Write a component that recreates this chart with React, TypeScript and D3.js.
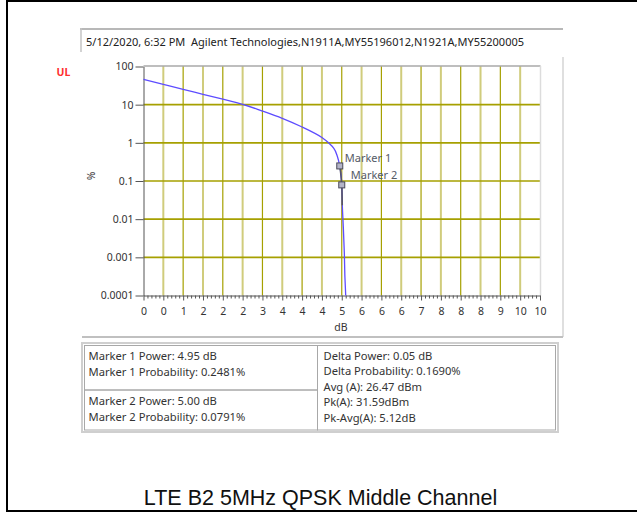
import * as d3 from 'd3'
import { useEffect, useRef } from 'react'

// CCDF curve
const powerDb = [0, 0.5, 1, 1.5, 2, 2.5, 3, 3.5, 4, 4.5, 4.6, 4.68, 4.8, 4.89, 4.95, 5.0, 5.014, 5.04, 5.065, 5.08, 5.1]
const probabilityPct = [46, 34, 25, 18.7, 13.9, 10.2, 6.8, 4.4, 2.6, 1.38, 1.15, 0.97, 0.72, 0.44, 0.2481, 0.0791, 0.023, 0.006, 0.0013, 0.0003, 0.0001]

const markerNames = ['Marker 1', 'Marker 2']
const markerPower = [4.95, 5.0]
const markerProb = [0.2481, 0.0791]

const yTickValues = [0.0001, 0.001, 0.01, 0.1, 1, 10, 100]
const yTickLabels = ['0.0001', '0.001', '0.01', '0.1', '1', '10', '100']
const xTickLabels = ['0', '0', '1', '2', '2', '2', '3', '4', '4', '4', '5', '6', '6', '6', '7', '8', '8', '8', '9', '10', '10']

const headerText = '5/12/2020, 6:32 PM  Agilent Technologies,N1911A,MY55196012,N1921A,MY55200005'
const marker1Rows = ['Marker 1 Power: 4.95 dB', 'Marker 1 Probability: 0.2481%']
const marker2Rows = ['Marker 2 Power: 5.00 dB', 'Marker 2 Probability: 0.0791%']
const deltaRows = ['Delta Power: 0.05 dB', 'Delta Probability: 0.1690%', 'Avg (A): 26.47 dBm', 'Pk(A): 31.59dBm', 'Pk-Avg(A): 5.12dB']
const caption = 'LTE B2 5MHz QPSK Middle Channel'

const uiFont = '"Noto Sans", "Open Sans", sans-serif'

export default function App() {
    const svgRef = useRef<SVGSVGElement>(null)

    useEffect(() => {
        makeChart(svgRef)
    }, [])

    function makeChart(svgRef: React.RefObject<SVGSVGElement>) {
        const width = 637
        const height = 515
        const svg = d3.select(svgRef.current).attr('width', width).attr('height', height)
        svg.selectAll('*').remove()

        svg.append('rect').attr('width', width).attr('height', height).attr('fill', '#fff')
        // outer frame (right side runs off the page)
        svg.append('rect').attr('x', 7).attr('y', 1).attr('width', 700).attr('height', 510)
            .attr('fill', 'none').attr('stroke', '#000').attr('stroke-width', 2)

        // header box
        svg.append('line').attr('x1', 80).attr('x2', 563).attr('y1', 29).attr('y2', 29).attr('stroke', '#b8b8b8').attr('stroke-width', 2)
        svg.append('line').attr('x1', 81).attr('x2', 81).attr('y1', 28).attr('y2', 52).attr('stroke', '#c4c4c4').attr('stroke-width', 1.5)
        svg.append('text').attr('x', 86).attr('y', 45.5).text(headerText)
            .style('white-space', 'pre')
            .attr('font-family', uiFont).attr('font-size', 11).attr('fill', '#222')

        // panel edges
        svg.append('line').attr('x1', 563).attr('x2', 563).attr('y1', 57).attr('y2', 337).attr('stroke', '#d4d4d4').attr('stroke-width', 1.5)
        svg.append('line').attr('x1', 82).attr('x2', 563).attr('y1', 337).attr('y2', 337).attr('stroke', '#c0c0c0').attr('stroke-width', 2)

        svg.append('text').attr('x', 56.5).attr('y', 75.5).text('UL')
            .attr('font-family', uiFont).attr('font-size', 10.5).attr('font-weight', 'bold').attr('fill', '#ff3030')

        const x = d3.scaleLinear().domain([0, 10]).range([143.5, 540])
        const y = d3.scaleLog().domain([0.0001, 100]).range([295.5, 66.5])

        const halfSteps = xTickLabels.map((_, i) => i * 0.5)

        // grid
        const grid = svg.append('g')
        grid.selectAll('line.v').data(halfSteps.slice(1, -1)).enter().append('line')
            .attr('x1', d => x(d)).attr('x2', d => x(d)).attr('y1', 66).attr('y2', 295.5)
            .attr('stroke', (d, i) => i % 2 === 0 ? '#d0cc7c' : '#a6a000')
            .attr('stroke-width', (d, i) => i % 2 === 0 ? 2 : 1.2)
        grid.selectAll('line.h').data(yTickValues.slice(1, -1)).enter().append('line')
            .attr('x1', 143.5).attr('x2', 540).attr('y1', d => y(d)).attr('y2', d => y(d))
            .attr('stroke', '#a6a000').attr('stroke-width', 1.6)

        // plot borders
        svg.append('line').attr('x1', 143.5).attr('x2', 540.5).attr('y1', 66).attr('y2', 66).attr('stroke', '#a8a8a8').attr('stroke-width', 1.5)
        svg.append('line').attr('x1', 540.5).attr('x2', 540.5).attr('y1', 66).attr('y2', 295.5).attr('stroke', '#dcdcdc').attr('stroke-width', 1.5)

        // axes
        const yAxis = svg.append('g').attr('transform', 'translate(143.5,0)')
            .call(d3.axisLeft(y).tickValues(yTickValues).tickFormat((d, i) => yTickLabels[i]).tickSize(8).tickSizeOuter(0).tickPadding(2))
        const xAxis = svg.append('g').attr('transform', 'translate(0,295.5)')
            .call(d3.axisBottom(x).tickValues(halfSteps).tickFormat((d, i) => xTickLabels[i]).tickSize(5).tickSizeOuter(0).tickPadding(7))
        const minor = d3.range(0, 101).filter(i => i % 5 !== 0).map(i => i / 10)
        svg.append('g').attr('transform', 'translate(0,295.5)')
            .call(d3.axisBottom(x).tickValues(minor).tickFormat(() => '').tickSize(3).tickSizeOuter(0))
            .call(g => g.select('.domain').remove())
            .selectAll('line').attr('stroke', '#555')
        for (const ax of [yAxis, xAxis]) {
            ax.select('.domain').attr('stroke', '#555')
            ax.selectAll('.tick line').attr('stroke', '#555')
            ax.selectAll('text').attr('font-family', uiFont).attr('font-size', 10.5).attr('fill', '#333')
        }

        svg.append('text').attr('x', 341).attr('y', 331).attr('text-anchor', 'middle').text('dB')
            .attr('font-family', uiFont).attr('font-size', 10.5).attr('fill', '#333')
        svg.append('text').attr('transform', 'translate(87,176) rotate(90)').attr('text-anchor', 'middle').text('%')
            .attr('font-family', uiFont).attr('font-size', 10).attr('fill', '#333')

        // curve
        const pts: [number, number][] = powerDb.map((p, i) => [x(p), y(probabilityPct[i])])
        const line = d3.line().curve(d3.curveMonotoneY)
        const ptsY = pts.slice().sort((a, b) => a[1] - b[1])
        svg.append('path').attr('d', line(ptsY)).attr('fill', 'none').attr('stroke', '#5d4cff').attr('stroke-width', 1.3)

        const markerSpan = pts.filter((p, i) => powerDb[i] >= markerPower[0] && powerDb[i] <= 5.015)
        svg.append('path').attr('d', d3.line().curve(d3.curveMonotoneY)(markerSpan))
            .attr('fill', 'none').attr('stroke', '#55556a').attr('stroke-width', 1.5)

        const labelDx = [5, 9]
        const labelDy = [-4, -6]
        markerNames.forEach((name, i) => {
            const mx = x(markerPower[i])
            const my = y(markerProb[i])
            svg.append('rect').attr('x', mx - 3).attr('y', my - 3).attr('width', 6).attr('height', 6)
                .attr('fill', '#b4b4c8').attr('stroke', '#4a4a5a').attr('stroke-width', 1)
            svg.append('text').attr('x', mx + labelDx[i]).attr('y', my + labelDy[i]).text(name)
                .attr('font-family', uiFont).attr('font-size', 11).attr('fill', '#555a66')
        })

        // info table
        const table = svg.append('g')
        table.append('rect').attr('x', 82).attr('y', 343).attr('width', 476).attr('height', 89)
            .attr('fill', '#fff').attr('stroke', '#cfcfcf').attr('stroke-width', 2)
        table.append('rect').attr('x', 84.5).attr('y', 345.5).attr('width', 233).attr('height', 44.5)
            .attr('fill', 'none').attr('stroke', '#a8a8a8').attr('stroke-width', 1)
        table.append('rect').attr('x', 84.5).attr('y', 390).attr('width', 233).attr('height', 40)
            .attr('fill', 'none').attr('stroke', '#a8a8a8').attr('stroke-width', 1)
        table.append('rect').attr('x', 317.5).attr('y', 345.5).attr('width', 238).attr('height', 84.5)
            .attr('fill', 'none').attr('stroke', '#a8a8a8').attr('stroke-width', 1)

        const rowText = (rows: string[], x0: number, y0: number, step: number) => {
            rows.forEach((r, i) => {
                table.append('text').attr('x', x0).attr('y', y0 + i * step).text(r)
                    .attr('font-family', uiFont).attr('font-size', 11.2).attr('fill', '#333')
            })
        }
        rowText(marker1Rows, 88.5, 360, 16)
        rowText(marker2Rows, 88.5, 405, 16)
        rowText(deltaRows, 323.5, 360, 15.4)

        svg.append('text').attr('x', 320.5).attr('y', 504.5).attr('text-anchor', 'middle').text(caption)
            .attr('font-family', '"Liberation Sans", Arial, sans-serif').attr('font-size', 21.5).attr('fill', '#111')
    }

    return (
        <svg ref={svgRef} style={{ position: 'absolute', left: 0, top: 0 }}></svg>
    )
}
